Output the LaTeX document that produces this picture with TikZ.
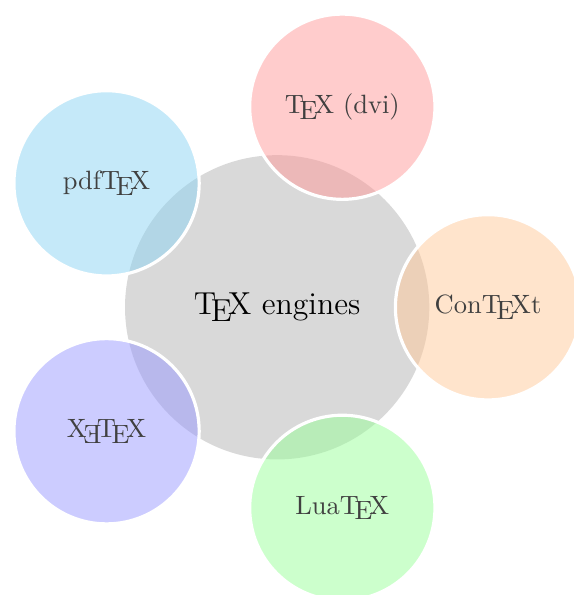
\documentclass[tikz,border=0pt]{standalone}
\usepackage{metalogo}
\usetikzlibrary{positioning}

\definecolor{dviRed}{RGB}{255,153,153}
\definecolor{pdfCyan}{RGB}{140,212,243}
\definecolor{xeBlue}{RGB}{153,153,255}
\definecolor{luaGreen}{RGB}{153,255,153}
\definecolor{ctxOrange}{RGB}{255,201,153}

\begin{document}
\begin{tikzpicture}[node distance=2.8cm]
  \tikzstyle{engines}=[circle,fill=gray!30,minimum size=4.04cm,font=\large]
  \tikzstyle{bubble}=[circle,draw=white,line width=1.2pt,minimum size=2.46cm,
                      fill opacity=0.5,text opacity=1,text=black!75]

  \useasboundingbox (-3.68,-3.82) rectangle (3.94,4.08);

  % Center.
  \node [engines] (tex) {\TeX{} engines};

  % Engines around it.
  \node [bubble,fill=dviRed] (dvi) at (72:2.8) {\TeX{} (dvi)};
  \node [bubble,fill=pdfCyan] (pdf) at (144:2.8) {pdf\TeX};
  \node [bubble,fill=xeBlue] (xe) at (216:2.8) {\XeTeX};
  \node [bubble,fill=luaGreen] (lua) at (288:2.8) {Lua\TeX};
  \node [bubble,fill=ctxOrange] (ctx) at (0:2.8) {Con\TeX t};
\end{tikzpicture}
\end{document}
